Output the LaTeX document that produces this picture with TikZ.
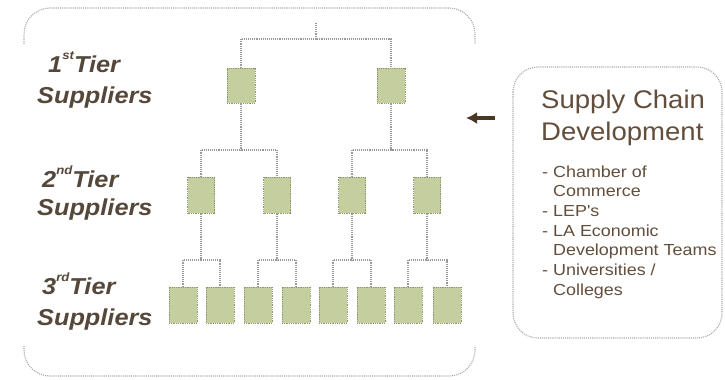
\documentclass[tikz,border=0pt]{standalone}
\usepackage{fontspec}
\setmainfont{Liberation Sans}
\newfontfamily\tierfont[FakeStretch=1.1]{Liberation Sans}
\newfontfamily\titlefont[FakeStretch=1.08]{Liberation Sans}
\newfontfamily\listfont[FakeStretch=1.12]{Liberation Sans}
\usetikzlibrary{arrows.meta}
\definecolor{boxfill}{HTML}{C5CE9E}
\definecolor{boxedge}{HTML}{8E9670}
\definecolor{linkgray}{HTML}{9A9A9A}
\definecolor{framegray}{HTML}{ABABAB}
\definecolor{labelbrown}{HTML}{55473A}
\definecolor{textbrown}{HTML}{624E3B}
\definecolor{arrowbrown}{HTML}{4A3826}
% small raised ordinal suffix for the tier labels
\newcommand{\ordsuffix}[1]{\raisebox{0.55em}{\fontsize{12bp}{12bp}\selectfont #1}}

\begin{document}
\begin{tikzpicture}[x=1bp,y=-1bp,
  supplier/.style={draw=boxedge, densely dotted, fill=boxfill, line width=0.8bp,
    minimum width=28bp, minimum height=36bp, inner sep=0pt},
  link/.style={draw=linkgray, densely dotted, line width=1.1bp},
  frame/.style={draw=framegray, densely dotted, line width=1.1bp, rounded corners=26bp},
  tier/.style={inner sep=0pt, anchor=base west, text=labelbrown,
    font=\tierfont\bfseries\itshape\fontsize{23bp}{27bp}\selectfont},
  heading/.style={inner sep=0pt, anchor=base west, text=textbrown,
    font=\titlefont\fontsize{25.5bp}{30bp}\selectfont},
  listline/.style={inner sep=0pt, anchor=base west, text=textbrown,
    font=\listfont\fontsize{16bp}{19bp}\selectfont}]

\useasboundingbox (0,0) rectangle (725,379);
\fill[white] (0,0) rectangle (725,379);

% outer frame around the tier tree (top and bottom brackets)
\draw[frame] (24,44) |- (475,8) -- (475,44);
\draw[frame] (24,346) |- (475,376) -- (475,346);

% tier labels
\node[tier] (lab1a) at (48,72)  {1\ordsuffix{st}Tier};
\node[tier] (lab1b) at (37,103) {Suppliers};
\node[tier] (lab2a) at (42,187) {2\ordsuffix{nd}Tier};
\node[tier] (lab2b) at (37,215) {Suppliers};
\node[tier] (lab3a) at (42,294) {3\ordsuffix{rd}Tier};
\node[tier] (lab3b) at (37,325) {Suppliers};

% suppliers
\node[supplier, minimum height=35bp] (t1a) at (241,85.5) {};
\node[supplier, minimum height=35bp] (t1b) at (391,85.5) {};

\node[supplier, minimum width=27bp] (t2a) at (201,195) {};
\node[supplier, minimum width=27bp] (t2b) at (277,195) {};
\node[supplier, minimum width=27bp] (t2c) at (352,195) {};
\node[supplier, minimum width=27bp] (t2d) at (427,195) {};

\node[supplier] (t3a) at (183,305) {};
\node[supplier] (t3b) at (220,305) {};
\node[supplier] (t3c) at (258,305) {};
\node[supplier] (t3d) at (296,305) {};
\node[supplier] (t3e) at (333,305) {};
\node[supplier] (t3f) at (371,305) {};
\node[supplier] (t3g) at (408,305) {};
\node[supplier] (t3h) at (447,305) {};

% junction points of the tree
\coordinate (root) at (316,23);
\coordinate (bus1) at (316,39);
\coordinate (j2a) at (241,150);
\coordinate (j2b) at (391,150);
\coordinate (j3a) at (201,260);
\coordinate (j3b) at (277,260);
\coordinate (j3c) at (352,260);
\coordinate (j3d) at (427,260);

% connectors
\draw[link] (root) -- (bus1);
\draw[link] (t1a.north) |- (bus1) -| (t1b.north);

\draw[link] (t1a.south) -- (j2a);
\draw[link] (t1b.south) -- (j2b);
\draw[link] (t2a.north) |- (j2a) -| (t2b.north);
\draw[link] (t2c.north) |- (j2b) -| (t2d.north);

\draw[link] (t2a.south) -- (j3a);
\draw[link] (t2b.south) -- (j3b);
\draw[link] (t2c.south) -- (j3c);
\draw[link] (t2d.south) -- (j3d);
\draw[link] (t3a.north) |- (j3a) -| (t3b.north);
\draw[link] (t3c.north) |- (j3b) -| (t3d.north);
\draw[link] (t3e.north) |- (j3c) -| (t3f.north);
\draw[link] (t3g.north) |- (j3d) -| (t3h.north);

% supply chain development panel
\draw[frame, rounded corners=25bp] (513,67) rectangle (722,338);
\node[heading] (title1) at (541,108) {Supply Chain};
\node[heading] (title2) at (541,140) {Development};

\node[listline] (item1) at (542,177)   {- Chamber of};
\node[listline] (item1b) at (542,196.7) {\phantom{- }Commerce};
\node[listline] (item2) at (542,216.4) {- LEP's};
\node[listline] (item3) at (542,236)   {- LA Economic};
\node[listline] (item3b) at (542,255.8) {\phantom{- }Development Teams};
\node[listline] (item4) at (542,275.5) {- Universities /};
\node[listline] (item4b) at (542,295)  {\phantom{- }Colleges};

% arrow pointing from the panel towards the tree
\coordinate (arrowtail) at (495,118);
\coordinate (arrowtip) at (466,118);
\draw[arrowbrown, line width=3.2bp, -{Latex[length=11bp,width=12bp]}] (arrowtail) -- (arrowtip);

\end{tikzpicture}
\end{document}
